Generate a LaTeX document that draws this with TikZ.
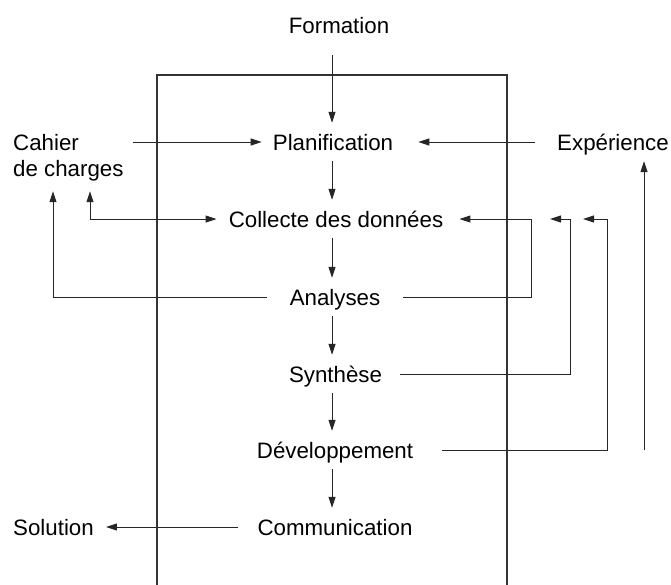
\documentclass[tikz,border=0pt]{standalone}
\usepackage{fontspec}
\setmainfont{Liberation Sans}
\usetikzlibrary{arrows.meta}
\begin{document}
\begin{tikzpicture}[x=1pt,y=-1pt,
  lbl/.style={font=\fontsize{22.3}{26}\selectfont, inner xsep=0pt, inner ysep=11pt, text height=16pt, text depth=0pt},
  lbltwo/.style={font=\fontsize{22.3}{26}\selectfont, inner sep=0pt, align=left},
  tip/.tip={Triangle[length=11pt,width=7pt]},
  arr/.style={draw=black!85, line width=1pt, -tip},
  arrboth/.style={draw=black!85, line width=1pt, tip-tip},
  frame/.style={draw=black!80, line width=1.4pt}]
\useasboundingbox (0,0) rectangle (671,584);
% open frame
\draw[frame] (157,600) -- (157,75) -- (507,75) -- (507,600);
% nodes
\node[lbl, inner ysep=22pt] (formation) at (339,25) {Formation};
\node[lbl] (plan) at (333,142) {Planification};
\node[lbl] (coll) at (336,219) {Collecte des données};
\node[lbl] (ana) at (335,297) {Analyses};
\node[lbl] (syn) at (335.5,374) {Synthèse};
\node[lbl] (dev) at (335,450) {Développement};
\node[lbl] (comm) at (335,527) {Communication};
\node[lbl] (sol) at (53.5,527) {Solution};
\node[lbl] (exp) at (613,142) {Expérience};
\node[lbltwo, anchor=north west] (cahier) at (13,134) {Cahier\\de charges};
% helper coordinates
\coordinate (colx) at (332,0);
\coordinate (j1) at (531,0);
\coordinate (j2) at (570,0);
\coordinate (j3) at (607,0);
\coordinate (t2) at (550,0);
\coordinate (t3) at (583,0);
\coordinate (fa) at (644,450);
% main column
\draw[arr] (formation.south -| colx) -- (plan.north -| colx);
\draw[arr] (plan.south -| colx) -- (coll.north -| colx);
\draw[arr] (coll.south -| colx) -- (ana.north -| colx);
\draw[arr] (ana.south -| colx) -- (syn.north -| colx);
\draw[arr] (syn.south -| colx) -- (dev.north -| colx);
\draw[arr] (dev.south -| colx) -- (comm.north -| colx);
% inputs to Planification
\draw[arr] ([xshift=9pt]cahier.east |- plan.west) -- ([xshift=-11pt]plan.west);
\draw[arr] ([xshift=-22pt]exp.west) -- ([xshift=25pt]plan.east);
% Cahier de charges links
\draw[arrboth] ([xshift=-12pt]coll.west) -| ([shift={(77,10)}]cahier.south west);
\draw[arr] ([xshift=-23pt]ana.west) -| ([shift={(40,10)}]cahier.south west);
% feedback to Collecte
\draw[arr] ([xshift=23pt]ana.east) -- (ana.east -| j1) -- (coll.east -| j1) -- ([xshift=16pt]coll.east);
\draw[arr] ([xshift=18pt]syn.east) -- (syn.east -| j2) -- (coll.east -| j2) -- (coll.east -| t2);
\draw[arr] ([xshift=29pt]dev.east) -- (dev.east -| j3) -- (coll.east -| j3) -- (coll.east -| t3);
% free arrow toward Expérience
\draw[arr] (fa) -- (fa |- exp.south);
% output
\draw[arr] ([xshift=-19pt]comm.west) -- ([xshift=12pt]sol.east);
\end{tikzpicture}
\end{document}
